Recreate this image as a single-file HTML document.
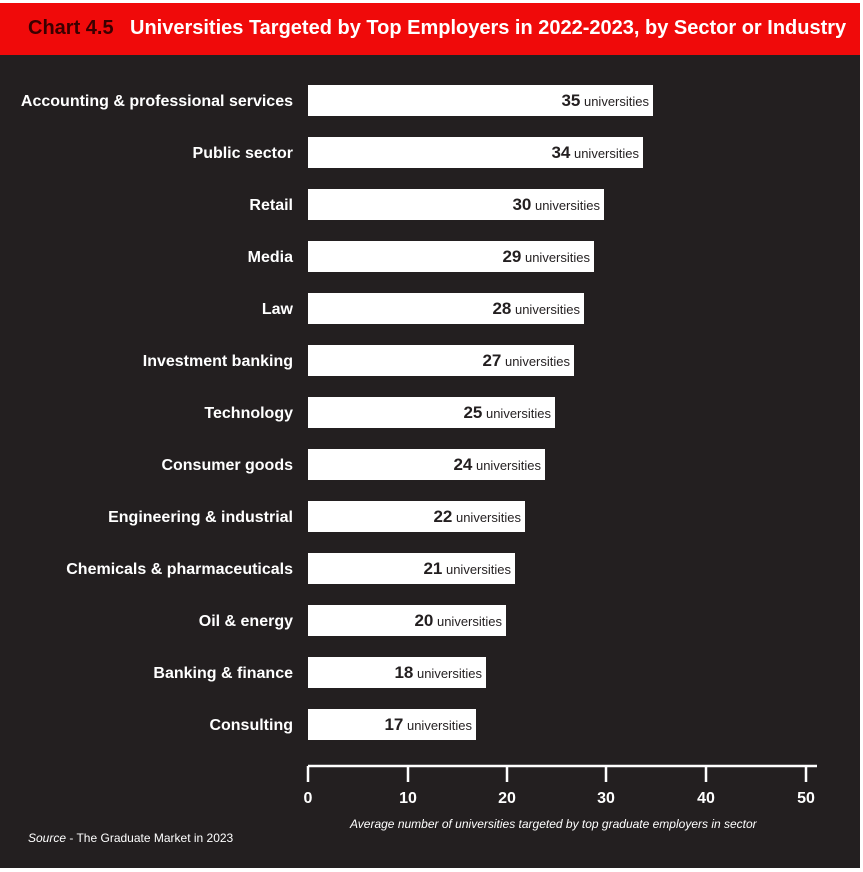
<!DOCTYPE html>
<html><head><style>
body{margin:0;width:863px;height:872px;background:#fff;overflow:hidden;font-family:"Liberation Sans",sans-serif}
#hdr{position:absolute;left:0;top:3px;width:860px;height:52px;background:#f00a0a}
#hdr span{position:absolute;top:14px;font-weight:bold;font-size:20px;white-space:nowrap}
#bg{position:absolute;left:0;top:55px;width:860px;height:813px;background:#231f20}
.l{position:absolute;right:570px;color:#fff;font-weight:bold;font-size:16px;white-space:nowrap}
.b{position:absolute;left:308px;height:31px;background:#fff;text-align:right;box-sizing:border-box;padding-right:4px;line-height:31px;color:#231f20;font-size:13px;white-space:nowrap}
.b b{font-size:17px}
.t{position:absolute;top:790px;color:#fff;font-weight:bold;font-size:16px;width:40px;margin-left:-20px;text-align:center}
</style></head><body>
<div id="hdr"><span style="left:28px;color:#3a0000">Chart 4.5</span><span style="left:130px;color:#fff">Universities Targeted by Top Employers in 2022-2023, by Sector or Industry</span></div>
<div id="bg"></div>
<div class="l" style="top:93px">Accounting &amp; professional services</div><div class="b" style="top:85px;width:345px"><b>35</b> universities</div>
<div class="l" style="top:145px">Public sector</div><div class="b" style="top:137px;width:335px"><b>34</b> universities</div>
<div class="l" style="top:197px">Retail</div><div class="b" style="top:189px;width:296px"><b>30</b> universities</div>
<div class="l" style="top:249px">Media</div><div class="b" style="top:241px;width:286px"><b>29</b> universities</div>
<div class="l" style="top:301px">Law</div><div class="b" style="top:293px;width:276px"><b>28</b> universities</div>
<div class="l" style="top:353px">Investment banking</div><div class="b" style="top:345px;width:266px"><b>27</b> universities</div>
<div class="l" style="top:405px">Technology</div><div class="b" style="top:397px;width:247px"><b>25</b> universities</div>
<div class="l" style="top:457px">Consumer goods</div><div class="b" style="top:449px;width:237px"><b>24</b> universities</div>
<div class="l" style="top:509px">Engineering &amp; industrial</div><div class="b" style="top:501px;width:217px"><b>22</b> universities</div>
<div class="l" style="top:561px">Chemicals &amp; pharmaceuticals</div><div class="b" style="top:553px;width:207px"><b>21</b> universities</div>
<div class="l" style="top:613px">Oil &amp; energy</div><div class="b" style="top:605px;width:198px"><b>20</b> universities</div>
<div class="l" style="top:665px">Banking &amp; finance</div><div class="b" style="top:657px;width:178px"><b>18</b> universities</div>
<div class="l" style="top:717px">Consulting</div><div class="b" style="top:709px;width:168px"><b>17</b> universities</div>
<svg style="position:absolute;left:0;top:0" width="863" height="872">
<g stroke="#fff" stroke-width="2.5" fill="none">
<path d="M308 766H817"/>
<path d="M308 766V782M408 766V782M507 766V782M606 766V782M706 766V782M806 766V782"/>
</g></svg>
<div class="t" style="left:308px">0</div><div class="t" style="left:408px">10</div><div class="t" style="left:507px">20</div><div class="t" style="left:606px">30</div><div class="t" style="left:706px">40</div><div class="t" style="left:806px">50</div>
<div style="position:absolute;left:350px;top:817px;color:#fff;font-style:italic;font-size:12px;white-space:nowrap">Average number of universities targeted by top graduate employers in sector</div>
<div style="position:absolute;left:28px;top:831px;color:#fff;font-size:12px;white-space:nowrap"><i>Source</i> - The Graduate Market in 2023</div>
</body></html>
